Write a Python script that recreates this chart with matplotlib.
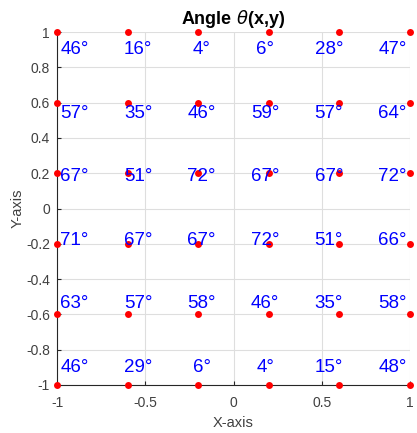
import numpy as np
import matplotlib
matplotlib.use("Agg")
import matplotlib.pyplot as plt

plt.rcParams['font.family'] = ['Liberation Sans', 'DejaVu Sans']

# Sample grid coordinates
x_vals = [-1.0, -0.6, -0.2, 0.2, 0.6, 1.0]
y_vals = [1.0, 0.6, 0.2, -0.2, -0.6, -1.0]

# Angle (degrees) at each grid point, rows follow y_vals, columns follow x_vals
angles = [
    [46, 16, 4, 6, 28, 47],
    [57, 35, 46, 59, 57, 64],
    [67, 51, 72, 67, 67, 72],
    [71, 67, 67, 72, 51, 66],
    [63, 57, 58, 46, 35, 58],
    [46, 29, 6, 4, 15, 48],
]

x_ticks = [-1, -0.5, 0, 0.5, 1]
x_ticklabels = ['-1', '-0.5', '0', '0.5', '1']
y_ticks = [-1, -0.8, -0.6, -0.4, -0.2, 0, 0.2, 0.4, 0.6, 0.8, 1]
y_ticklabels = ['-1', '-0.8', '-0.6', '-0.4', '-0.2', '0', '0.2', '0.4', '0.6', '0.8', '1']

label_scale = 0.9
axis_gray = '#262626'
tick_text_gray = '#404040'

fig = plt.figure(figsize=(4.17, 4.33), dpi=100)
ax = fig.add_axes([57 / 417, 1 - 385 / 433, (410 - 57) / 417, (385 - 32) / 433])

X, Y = np.meshgrid(x_vals, y_vals)
ax.plot(X.ravel(), Y.ravel(), 'o', color='#ff0000', markersize=5,
        markeredgewidth=0, clip_on=False, zorder=3)

for i, yv in enumerate(y_vals):
    for j, xv in enumerate(x_vals):
        ax.text(label_scale * xv, label_scale * yv, f"{angles[i][j]}°",
                color='#0000ff', fontsize=13.5, ha='center', va='center',
                zorder=4)

ax.set_xlim(-1, 1)
ax.set_ylim(-1, 1)
ax.set_xticks(x_ticks)
ax.set_xticklabels(x_ticklabels)
ax.set_yticks(y_ticks)
ax.set_yticklabels(y_ticklabels)

ax.grid(True, color='#dedede', linewidth=0.8, zorder=0)
ax.set_axisbelow(True)

for side in ['top', 'right']:
    ax.spines[side].set_visible(False)
for side in ['left', 'bottom']:
    ax.spines[side].set_color(axis_gray)
    ax.spines[side].set_linewidth(0.8)

ax.tick_params(direction='in', length=3, width=0.8, colors=axis_gray,
               labelcolor=tick_text_gray, labelsize=10)
ax.tick_params(axis='x', pad=8)
ax.tick_params(axis='y', pad=5)

ax.set_xlabel('X-axis', fontsize=10.5, color=tick_text_gray, labelpad=4)
ax.set_ylabel('Y-axis', fontsize=10.5, color=tick_text_gray, labelpad=1)
ax.set_title(r'Angle $\theta$(x,y)', fontsize=13, fontweight='bold',
             color='black', pad=6)

fig.savefig('out.png', dpi=100)
